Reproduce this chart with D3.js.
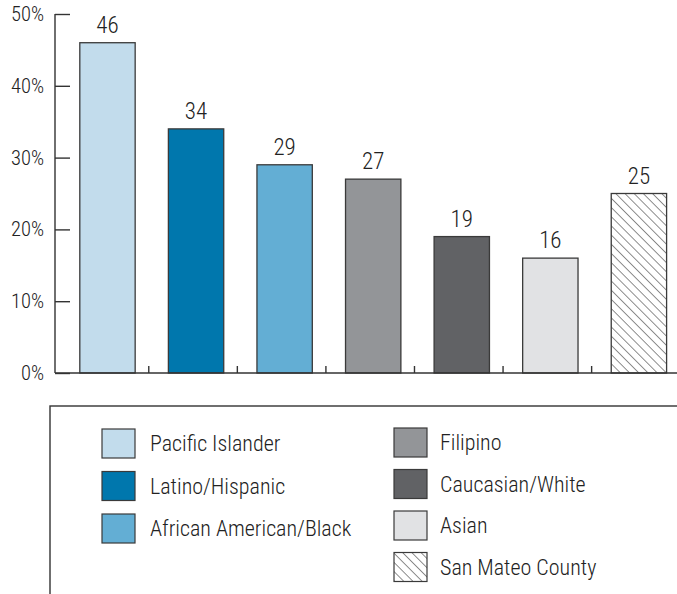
<!DOCTYPE html>
<html>
<head>
<meta charset="utf-8">
<script src="https://cdn.jsdelivr.net/npm/d3@7"></script>
<style>
  html, body { margin: 0; padding: 0; background: #fff; }
  svg { display: block; }
  text { font-family: "Liberation Sans Narrow", "Arial Narrow", "Roboto Condensed", sans-serif; font-weight: 300; fill: #222; }
</style>
</head>
<body>
<svg id="chart" width="677" height="594"></svg>
<script>
const categories = ["Pacific Islander", "Latino/Hispanic", "African American/Black", "Filipino", "Caucasian/White", "Asian", "San Mateo County"];
const values = [46, 34, 29, 27, 19, 16, 25];
const colors = ["#c2dcec", "#0077ad", "#63aed4", "#939598", "#616265", "#e1e2e4", "hatch"];
const yTicks = [0, 10, 20, 30, 40, 50];
const yTickLabels = ["0%", "10%", "20%", "30%", "40%", "50%"];

const svg = d3.select("#chart");

// hatch pattern (lines running top-left to bottom-right)
const defs = svg.append("defs");
const pat = defs.append("pattern")
  .attr("id", "hatch").attr("patternUnits", "userSpaceOnUse")
  .attr("width", 6.5).attr("height", 6.5)
  .attr("patternTransform", "rotate(45)");
pat.append("rect").attr("width", 6.5).attr("height", 6.5).attr("fill", "#fff");
pat.append("line").attr("x1", 0).attr("y1", 0).attr("x2", 6.5).attr("y2", 0)
  .attr("stroke", "#333").attr("stroke-width", 1.1);

const fillOf = c => c === "hatch" ? "url(#hatch)" : c;

const x = d3.scaleBand().domain(categories).range([63.2, 683.2]).paddingInner(0.375).paddingOuter(0.1875);
const y = d3.scaleLinear().domain([0, 50]).range([373, 14]);

// bars
svg.append("g").selectAll("rect").data(categories).join("rect")
  .attr("x", d => x(d))
  .attr("y", (d, i) => y(values[i]))
  .attr("width", x.bandwidth())
  .attr("height", (d, i) => y(0) - y(values[i]))
  .attr("fill", (d, i) => fillOf(colors[i]))
  .attr("stroke", "#3a3a3a").attr("stroke-width", 1.3);

// value labels
svg.append("g").selectAll("text").data(categories).join("text")
  .attr("x", d => x(d) + x.bandwidth() / 2)
  .attr("y", (d, i) => y(values[i]) - 10)
  .attr("text-anchor", "middle")
  .attr("font-size", 23)
  .text((d, i) => values[i]);

// y axis
const yAxis = d3.axisRight(y).tickValues(yTicks).tickSize(15).tickFormat("");
const gy = svg.append("g").attr("transform", "translate(55,0)").call(yAxis);
gy.select(".domain").attr("d", `M0,${y(50)}V${y(0)}`).attr("stroke", "#333").attr("stroke-width", 1.4);
gy.selectAll(".tick line").attr("stroke", "#333").attr("stroke-width", 1.4);
svg.append("g").selectAll("text").data(yTicks).join("text")
  .attr("x", 44)
  .attr("y", d => y(d) + 7)
  .attr("text-anchor", "end")
  .attr("font-size", 20.5)
  .text((d, i) => yTickLabels[i]);

// x axis baseline + separator ticks
svg.append("line").attr("x1", 55).attr("x2", 677).attr("y1", y(0)).attr("y2", y(0))
  .attr("stroke", "#333").attr("stroke-width", 1.4);
svg.append("g").selectAll("line").data(categories.slice(1)).join("line")
  .attr("x1", d => x(d) - x.step() * x.paddingInner() / 2 - 3)
  .attr("x2", d => x(d) - x.step() * x.paddingInner() / 2 - 3)
  .attr("y1", y(0) - 7).attr("y2", y(0))
  .attr("stroke", "#333").attr("stroke-width", 1.4);

// legend box
svg.append("rect").attr("x", 50).attr("y", 406).attr("width", 640).attr("height", 220)
  .attr("fill", "none").attr("stroke", "#333").attr("stroke-width", 1.4);

const legendPos = (i) => {
  if (i < 3) return { sx: 102, ty: 429 + i * 42.5, tx: 150 };
  return { sx: 394, ty: 428 + (i - 3) * 41.5, tx: 440 };
};
const lg = svg.append("g").selectAll("g").data(categories).join("g")
  .attr("transform", (d, i) => `translate(${legendPos(i).sx},${legendPos(i).ty})`);
lg.append("rect").attr("width", 33).attr("height", 29)
  .attr("fill", (d, i) => fillOf(colors[i]))
  .attr("stroke", "#3a3a3a").attr("stroke-width", 1.2);
lg.append("text")
  .attr("x", (d, i) => legendPos(i).tx - legendPos(i).sx)
  .attr("y", 22)
  .attr("font-size", 22)
  .text(d => d);
</script>
</body>
</html>
